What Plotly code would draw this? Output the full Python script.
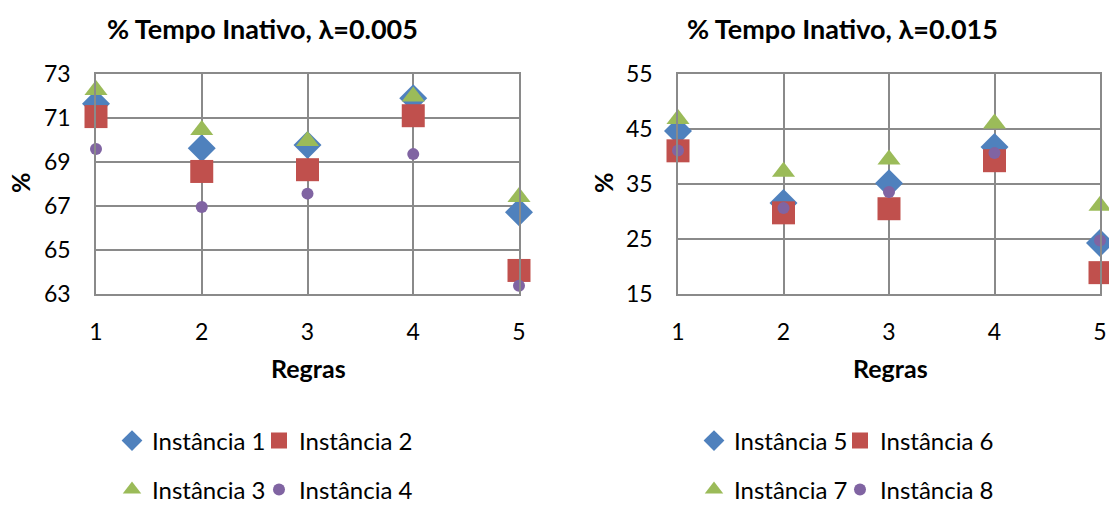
import plotly.graph_objects as go

W, H = 1109, 505

regras = [1, 2, 3, 4, 5]

# lambda = 0.005
inst1 = [71.65, 69.62, 69.77, 71.9, 66.7]
inst2 = [71.06, 68.56, 68.64, 71.1, 64.05]
inst3 = [72.27, 70.45, 69.95, 71.97, 67.4]
inst4 = [69.58, 66.94, 67.55, 69.35, 63.35]

# lambda = 0.015
inst5 = [44.6, 31.5, 35.1, 41.7, 24.2]
inst6 = [41.0, 29.7, 30.45, 39.2, 18.8]
inst7 = [46.8, 37.2, 39.4, 46.0, 31.0]
inst8 = [41.05, 30.6, 33.5, 40.6, 24.65]

names_left = ["Instância 1", "Instância 2", "Instância 3", "Instância 4"]
names_right = ["Instância 5", "Instância 6", "Instância 7", "Instância 8"]

titles = ["% Tempo Inativo, λ=0.005", "% Tempo Inativo, λ=0.015"]
xlabel = "Regras"
ylabel = "%"

FONT = "Lato"
colors = ["#4F81BD", "#C0504D", "#9BBB59", "#8064A2"]
symbols = ["diamond", "square", "triangle-up", "circle"]
sizes = [21.5, 23, 20, 12]
GRID = "#8a8a8a"

fig = go.Figure()

legend_ids = ["legend", "legend2", "legend3", "legend4",
              "legend5", "legend6", "legend7", "legend8"]

for i, (vals, nm) in enumerate(zip([inst1, inst2, inst3, inst4], names_left)):
    fig.add_trace(go.Scatter(
        x=regras, y=vals, mode="markers", name=nm,
        marker=dict(symbol=symbols[i], color=colors[i], size=sizes[i], line=dict(width=0)),
        cliponaxis=False, xaxis="x", yaxis="y", legend=legend_ids[i]))

for i, (vals, nm) in enumerate(zip([inst5, inst6, inst7, inst8], names_right)):
    fig.add_trace(go.Scatter(
        x=regras, y=vals, mode="markers", name=nm,
        marker=dict(symbol=symbols[i], color=colors[i], size=sizes[i], line=dict(width=0)),
        cliponaxis=False, xaxis="x2", yaxis="y2", legend=legend_ids[4 + i]))

ydom = [1 - 293.5 / H, 1 - 74 / H]

TICKSIZE = 23
xcommon = dict(range=[1, 5], dtick=1, tick0=1, showgrid=True, gridcolor=GRID, gridwidth=1.5,
               showline=True, linecolor=GRID, linewidth=1.5, mirror=True, zeroline=False,
               ticks="", ticklabelstandoff=17, tickfont=dict(family=FONT, size=TICKSIZE, color="#000"))
ycommon = dict(showgrid=True, gridcolor=GRID, gridwidth=1.5,
               showline=True, linecolor=GRID, linewidth=1.5, mirror=True, zeroline=False,
               ticks="", ticklabelstandoff=19, tickfont=dict(family=FONT, size=TICKSIZE, color="#000"))

fig.update_layout(
    width=W, height=H,
    margin=dict(l=0, r=0, t=0, b=0, autoexpand=False),
    paper_bgcolor="white", plot_bgcolor="white",
    xaxis=dict(domain=[96 / W, 519 / W], anchor="y", **xcommon),
    yaxis=dict(domain=ydom, anchor="x", range=[63, 73], dtick=2, tick0=63, **ycommon),
    xaxis2=dict(domain=[678 / W, 1100 / W], anchor="y2", **xcommon),
    yaxis2=dict(domain=ydom, anchor="x2", range=[15, 55], dtick=10, tick0=15, **ycommon),
    showlegend=True,
)

legfont = dict(family=FONT, size=24, color="#000")
# legend item start positions (px): symbol drawn 20px right of start
legpos = [(112, 441), (259, 441), (112, 490), (259, 490),
          (694, 441), (840, 441), (694, 490), (840, 490)]
for key, (x, y) in zip(legend_ids, legpos):
    fig.update_layout({key: dict(orientation="h", x=x / W, xanchor="left", y=1 - y / H,
                                 yanchor="middle", font=legfont, bgcolor="rgba(0,0,0,0)",
                                 itemclick=False, itemdoubleclick=False)})

ann = []
for t, cx in zip(titles, [262, 843]):
    ann.append(dict(text=f"<b>{t}</b>", x=cx / W, y=1 - 28 / H, xref="paper", yref="paper",
                    xanchor="center", yanchor="middle", showarrow=False,
                    font=dict(family=FONT, size=27, color="#000")))
for cx in [308, 890]:
    ann.append(dict(text=f"<b>{xlabel}</b>", x=cx / W, y=1 - 368 / H, xref="paper", yref="paper",
                    xanchor="center", yanchor="middle", showarrow=False,
                    font=dict(family=FONT, size=25, color="#000")))
for cx in [20, 603]:
    ann.append(dict(text=f"<b>{ylabel}</b>", x=cx / W, y=1 - 183 / H, xref="paper", yref="paper",
                    xanchor="center", yanchor="middle", showarrow=False, textangle=-90,
                    font=dict(family=FONT, size=25, color="#000")))
fig.update_layout(annotations=ann)

fig.write_html("out.html")
